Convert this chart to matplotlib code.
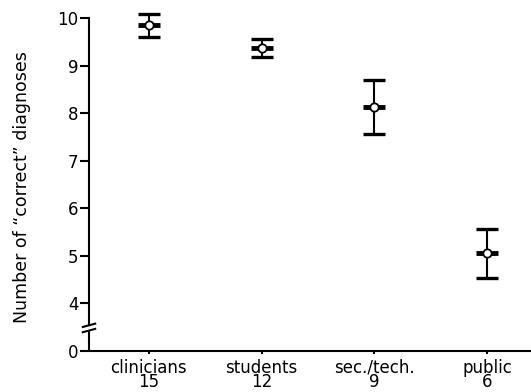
import numpy as np
import matplotlib
matplotlib.use("Agg")
import matplotlib.pyplot as plt
from matplotlib.transforms import blended_transform_factory

# data
groups = ["clinicians", "students", "sec./tech.", "public"]
n_subjects = [15, 12, 9, 6]
means = [9.85, 9.37, 8.13, 5.05]
errors = [0.24, 0.18, 0.56, 0.51]
y_ticks = [0, 4, 5, 6, 7, 8, 9, 10]


# broken y axis: 0..4 squeezed into one unit
def fwd(v):
    v = np.asarray(v, dtype=float)
    return np.where(v >= 4, v, 3 + v / 4)


def inv(p):
    p = np.asarray(p, dtype=float)
    return np.where(p >= 4, p, (p - 3) * 4)


plt.rcParams["font.family"] = ["DejaVu Sans"]

W, H = 531, 392
fig = plt.figure(figsize=(W / 100, H / 100), dpi=100)
ax = fig.add_axes([89 / W, 1 - 351 / H, 1 - 89 / W, 347.3 / H])
ax.set_yscale("function", functions=(fwd, inv))

x = np.arange(len(groups))

ax.errorbar(x, means, yerr=errors, fmt="none", ecolor="black",
            elinewidth=1.5, capsize=8, capthick=2.4, clip_on=False)
ax.plot(x, means, linestyle="none", marker="_", ms=16, mew=3.5,
        color="black", clip_on=False)
ax.plot(x, means, linestyle="none", marker="o", ms=6, mfc="white",
        mec="black", mew=1.3, clip_on=False)

ax.set_xlim(-0.53, 3.39)
ax.set_ylim(0, 10.3)

ax.set_yticks(y_ticks)
ax.set_yticklabels([str(t) for t in y_ticks], fontsize=12)
ax.set_xticks(x)
ax.set_xticklabels([f"{g}\n{n}" for g, n in zip(groups, n_subjects)],
                   fontsize=12, linespacing=0.72)

ax.tick_params(axis="y", direction="out", length=6.5, width=1.5, pad=1)
ax.tick_params(axis="x", direction="out", length=2.5, width=1.5, pad=3)

for s in ["top", "right"]:
    ax.spines[s].set_visible(False)
ax.spines["bottom"].set_linewidth(1.5)
ax.spines["left"].set_linewidth(1.5)
ax.spines["left"].set_bounds(float(inv(3.55)), 10)

# lower piece of the y axis and the break marks
tr = blended_transform_factory(ax.transAxes, ax.transData)
ax.plot([0, 0], [0, float(inv(3.43))], color="black", lw=1.5,
        transform=tr, clip_on=False, solid_capstyle="butt")
for p in [3.43, 3.54]:
    ax.plot([-0.014, 0.014], [float(inv(p - 0.035)), float(inv(p + 0.035))],
            color="black", lw=1.5, transform=tr, clip_on=False)

ax.set_ylabel("Number of \u201ccorrect\u201d diagnoses", fontsize=12.5)
ax.yaxis.set_label_coords(-0.131, 0.471)

fig.savefig("out.png", dpi=100)
